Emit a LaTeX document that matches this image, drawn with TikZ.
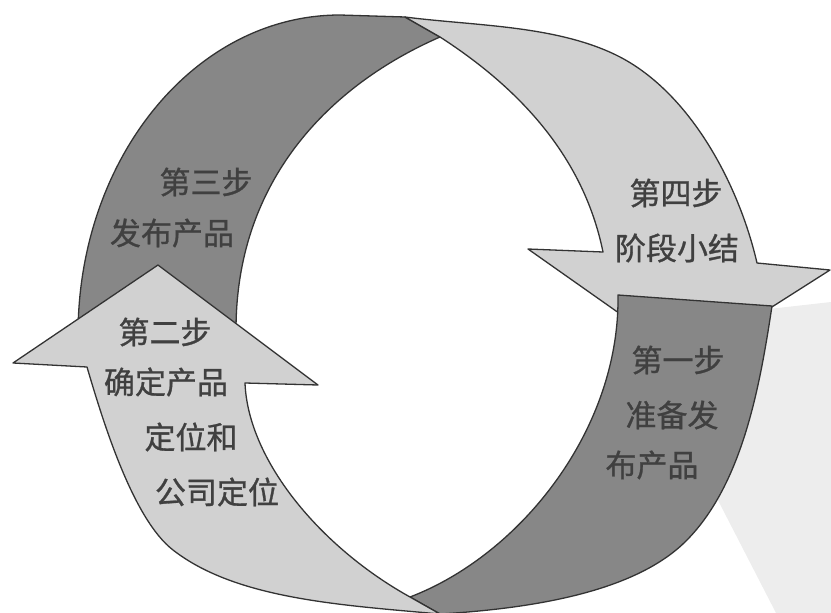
\documentclass[tikz,border=0pt]{standalone}
\usepackage{fontspec}
\newfontfamily\cjk[BoldFont={Noto Sans CJK SC}, BoldFeatures={FakeBold=0.9}]{Noto Sans CJK SC}
\begin{document}
\begin{tikzpicture}[x=1pt,y=-1pt,
  band/.style={draw=black!80, line width=1.3pt, line join=round},
  darkband/.style={band, fill=black!47},
  lightband/.style={band, fill=black!18},
  lbl/.style={font=\cjk\bfseries\fontsize{31}{36}\selectfont, text=black!75, inner sep=0pt}]
\useasboundingbox (0,0) rectangle (831,613);
% faint background patch on the right
\fill[black!7] (760,310) -- (831,302) -- (831,613) -- (776,613) -- (705,475) -- cycle;
% step 3 (dark, upper left)
\path[darkband] (405,17) -- (340,15) .. controls (195,15) and (78,158) .. (78,335)
  -- (236,335) -- (236,330) .. controls (236,180) and (330,85) .. (440,37) -- cycle;
% step 4 (light arrow, right, pointing down)
\path[lightband] (405,17) .. controls (475,26) and (558,25) .. (620,57)
  .. controls (691,94) and (739,185) .. (757,263)
  -- (830,270) -- (687,361) -- (528,249) -- (603,252)
  .. controls (583,154) and (516,86) .. (440,37) -- cycle;
% step 1 (dark, lower right)
\path[darkband] (618,295) -- (772,306)
  .. controls (760,385) and (743,483) .. (687,540)
  .. controls (638,590) and (540,608) .. (440,614)
  -- (410,597) .. controls (520,555) and (620,430) .. (618,295) -- cycle;
% step 2 (light arrow, left, pointing up)
\path[lightband] (158,265) -- (13,363) -- (87,367)
  .. controls (104,425) and (133.5,519.5) .. (173,550)
  .. controls (236,599) and (340,605) .. (440,614)
  -- (410,597) .. controls (320,547) and (248,460) .. (245,383)
  -- (318,385) -- cycle;
% labels
\node[lbl] (s3a) at (206,182) {第三步};
\node[lbl] (s3b) at (172,233) {发布产品};
\node[lbl] (s4a) at (676,193) {第四步};
\node[lbl] (s4b) at (677,248) {阶段小结};
\node[lbl] (s2a) at (165,332) {第二步};
\node[lbl] (s2b) at (166,382) {确定产品};
\node[lbl] (s2c) at (191,437) {定位和};
\node[lbl] (s2d) at (217,492) {公司定位};
\node[lbl] (s1a) at (678,360) {第一步};
\node[lbl] (s1b) at (672,415) {准备发};
\node[lbl] (s1c) at (652,465) {布产品};
\end{tikzpicture}
\end{document}
